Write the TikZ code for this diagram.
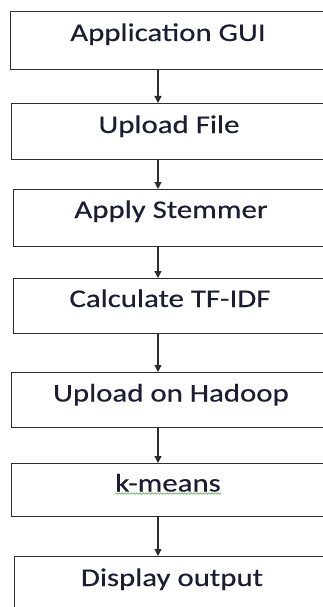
\documentclass[tikz,border=0pt]{standalone}
\usepackage{fontspec}
\setmainfont{Carlito}[FakeStretch=1.21, FakeBold=0.35]
\usetikzlibrary{arrows.meta,decorations.pathmorphing}
\definecolor{inkcol}{RGB}{28,28,52}
\definecolor{linecol}{RGB}{45,45,45}
\definecolor{squiggle}{RGB}{90,170,80}
\tikzset{
  x=1pt, y=-1pt,
  stepbox/.style={draw=linecol, line width=1.3pt, rectangle, anchor=north west, inner sep=0pt},
  lbl/.style={anchor=base, inner sep=0pt, text=inkcol, font=\fontsize{25.5}{28}\selectfont},
  arr/.style={draw=linecol, line width=1.1pt, -{Triangle[length=7pt,width=7pt]}},
}
\begin{document}
\begin{tikzpicture}
  \useasboundingbox (0,0) rectangle (323,607);
  \clip (0,0) rectangle (323,607);
  \fill[white] (0,0) rectangle (323,607);

  % process boxes (the right side runs past the page edge)
  \node[stepbox, minimum width=330pt, minimum height=58pt] (b1) at (10,11) {};
  \node[stepbox, minimum width=330pt, minimum height=56pt] (b2) at (11,103) {};
  \node[stepbox, minimum width=330pt, minimum height=57pt] (b3) at (13,189) {};
  \node[stepbox, minimum width=330pt, minimum height=55pt] (b4) at (13,278) {};
  \node[stepbox, minimum width=330pt, minimum height=55pt] (b5) at (11,372) {};
  \node[stepbox, minimum width=330pt, minimum height=53pt] (b6) at (11,463) {};
  \node[stepbox, minimum width=330pt, minimum height=70pt] (b7) at (14,556) {};

  % labels
  \node[lbl] (t1) at (168,41) {Application GUI};
  \node[lbl] (t2) at (169,133) {Upload File};
  \node[lbl] (t3) at (171,218) {Apply Stemmer};
  \node[lbl] (t4) at (170,307) {Calculate TF-IDF};
  \node[lbl] (t5) at (171,401.5) {Upload on Hadoop};
  \node[lbl] (t6) at (168,491.5) {k-means};
  \node[lbl] (t7) at (172,586) {Display output};

  % spell-check underline
  \draw[squiggle, line width=0.6pt, decorate,
        decoration={snake, amplitude=0.8pt, segment length=3pt}]
    (t6.base west) ++(0,2) -- (t6.base east |- 0,493.5);

  % connectors
  \coordinate (ax) at (158,0);
  \draw[arr] (b1.south -| ax) -- (b2.north -| ax);
  \draw[arr] (b2.south -| ax) -- (b3.north -| ax);
  \draw[arr] (b3.south -| ax) -- (b4.north -| ax);
  \draw[arr] (b4.south -| ax) -- (b5.north -| ax);
  \draw[arr] (b5.south -| ax) -- (b6.north -| ax);
  \draw[arr] (b6.south -| ax) -- (b7.north -| ax);
\end{tikzpicture}
\end{document}
